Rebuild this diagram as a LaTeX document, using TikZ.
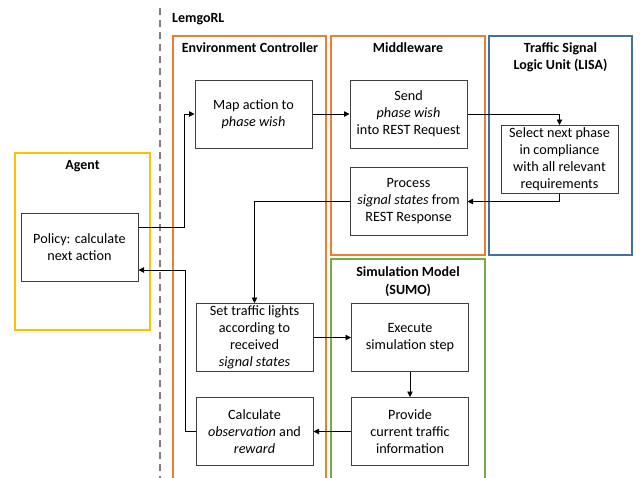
\documentclass[tikz,border=0pt]{standalone}
\usepackage{fontspec}
\setmainfont{Carlito}
\usetikzlibrary{arrows.meta,calc}
\definecolor{orng}{HTML}{ED7D31}
\definecolor{blu}{HTML}{41719C}
\definecolor{yel}{HTML}{FFC000}
\definecolor{grn}{HTML}{70AD47}
\definecolor{boxgray}{HTML}{404040}
\definecolor{dashgray}{HTML}{7F7F7F}
\tikzset{
  proc/.style={draw=boxgray, line width=1.0pt, fill=white, minimum width=117pt, minimum height=68pt, align=center, inner sep=0pt, font=\fontsize{14.2}{17}\selectfont},
  ttl/.style={font=\fontsize{14}{17.5}\selectfont\bfseries, align=center, inner sep=0pt},
  cont/.style={line width=2.4pt},
  conn/.style={draw=black, line width=0.9pt, -{Triangle[length=5.5pt,width=5.5pt]}},
}
\begin{document}
\begin{tikzpicture}[x=1pt,y=-1pt]
\useasboundingbox (0,0) rectangle (644,477);
% dashed separator
\draw[dashgray, line width=1.8pt, dash pattern=on 7pt off 5pt] (160,8) -- (160,480);
\node[ttl, anchor=west] (lemgo) at (172,19) {LemgoRL};
% containers
\draw[cont, orng] (173,485) -- (173,36) -- (326,36) -- (326,485);
\draw[cont, orng] (331,36) rectangle (485,255);
\draw[cont, blu] (489,36) rectangle (632,255);
\draw[cont, grn] (331,485) -- (331,259) -- (485,259) -- (485,485);
\draw[cont, yel] (15,153) rectangle (150,330);
% titles
\node[ttl] (tenv) at (250,48) {Environment Controller};
\node[ttl] (tmid) at (408,48) {Middleware};
\node[ttl] (tlisa) at (560.5,57.5) {Traffic Signal\\Logic Unit (LISA)};
\node[ttl] (tsumo) at (408,281.5) {Simulation Model\\(SUMO)};
\node[ttl] (tagent) at (82.5,166) {Agent};
% process boxes
\node[proc] (map) at (253.5,114) {Map action to\\\textit{phase wish}};
\node[proc] (send) at (408.5,114) {Send\\\textit{phase wish}\\into REST Request};
\node[proc] (select) at (559.5,159.5) {Select next phase\\in compliance\\with all relevant\\requirements};
\node[proc] (process) at (408.5,201.5) {Process\\\textit{signal states} from\\REST Response};
\node[proc] (policy) at (79.5,247.5) {Policy: calculate\\next action};
\node[proc] (settl) at (254.5,337.5) {Set traffic lights\\according to\\received\\\textit{signal states}};
\node[proc] (exec) at (410,337.5) {Execute\\simulation step};
\node[proc] (provide) at (410,431.5) {Provide\\current traffic\\information};
\node[proc] (calc) at (254.5,431.5) {Calculate\\\textit{observation} and\\\textit{reward}};
% connectors
\draw[conn] ($(policy.east)+(0,-20)$) -| ($(map.west)+(-10,0)$) -- (map.west);
\draw[conn] (map.east) -- (send.west);
\draw[conn] (send.east) -| (select.north);
\draw[conn] (select.south) |- (process.east);
\draw[conn] (process.west) -| (settl.north);
\draw[conn] (settl.east) -- (exec.west);
\draw[conn] (exec.south) -- (provide.north);
\draw[conn] (provide.west) -- (calc.east);
\draw[conn] (calc.west) -- ++(-10,0) |- ($(policy.east)+(0,22.5)$);
\end{tikzpicture}
\end{document}
